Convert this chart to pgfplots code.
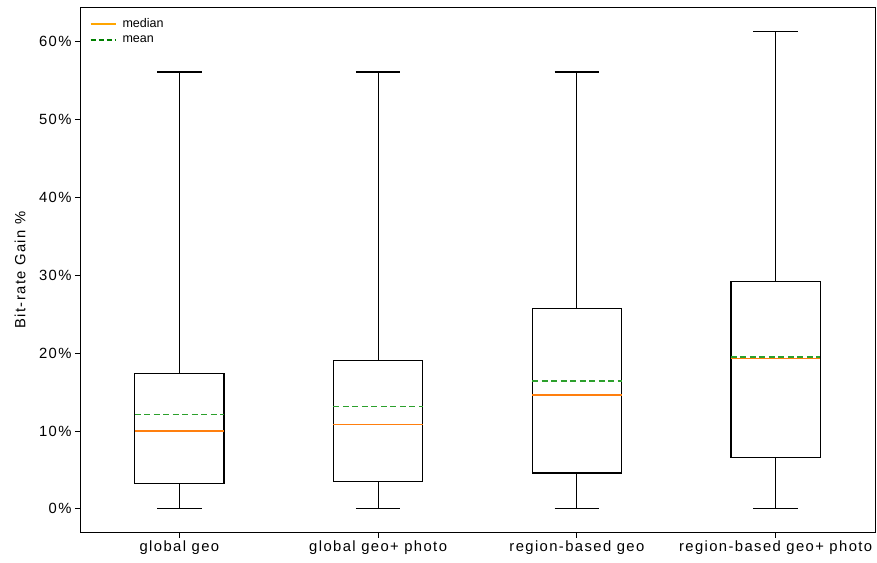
\documentclass[border=0pt]{standalone}
\usepackage{pgfplots}
\pgfplotsset{compat=1.18}
\usepgfplotslibrary{statistics}
\usepackage{fontspec}
\setmainfont{Liberation Sans}[LetterSpace=9.5]
\newfontfamily\legfont{Liberation Sans}
\definecolor{medc}{HTML}{FF7F0E}
\definecolor{meanc}{HTML}{2CA02C}
\definecolor{legmed}{HTML}{FFA500}
\definecolor{legmean}{HTML}{008000}
\begin{document}
\begin{tikzpicture}
\useasboundingbox (-80bp,-30.3bp) rectangle (797bp,532.7bp);
\begin{axis}[
  scale only axis, width=795bp, height=525.4bp,
  xmin=0.5, xmax=4.5, ymin=-3.07, ymax=64.4,
  xtick={1,2,3,4},
  xticklabels={global geo, global geo+ photo, region-based geo, region-based geo+ photo},
  ytick={0,10,20,30,40,50,60},
  yticklabel={\pgfmathprintnumber{\tick}\%},
  /pgf/number format/assume math mode=true,
  tick align=outside, xtick pos=bottom, ytick pos=left,
  major tick length=5bp,
  tick style={line width=0.8bp, black},
  axis line style={line width=0.8bp, black},
  tick label style={font=\fontsize{14.8bp}{17bp}\selectfont},
  label style={font=\fontsize{14.8bp}{17bp}\selectfont},
  ylabel={Bit-rate Gain \%},
  ylabel style={at={(axis description cs:-0.0755,0.5)}, anchor=center},
  legend style={draw=none, fill=none, at={(axis description cs:0.008,0.987)}, anchor=north west,
    font=\legfont\fontsize{12.5bp}{14bp}\selectfont, row sep=2.6bp,
    /tikz/every odd column/.append style={column sep=4bp}},
  legend cell align=left,
  legend image code/.code={\draw[#1] (0bp,0bp) -- (25bp,0bp);},
  boxplot/draw direction=y,
  boxplot/every median/.style={draw=medc, line width=1.4bp},
  boxplot/draw/average/.code={\draw[meanc, line width=1.4bp, dash pattern=on 6bp off 3.5bp]
     (boxplot box cs:\pgfplotsboxplotvalue{average},0) -- (boxplot box cs:\pgfplotsboxplotvalue{average},1);},
]
\addlegendimage{legmed, line width=2bp}
\addlegendentry{median}
\addlegendimage{legmean, line width=2bp, dash pattern=on 5bp off 3bp}
\addlegendentry{mean}

\addplot[forget plot, black, line width=1.2bp, boxplot prepared={draw position=1,
  lower whisker=0, lower quartile=3.2, median=10.0, upper quartile=17.4, upper whisker=56.1,
  average=12.1, box extend=0.45, whisker extend=0.225}] coordinates {};
\addplot[forget plot, black, line width=1.2bp, boxplot prepared={draw position=2,
  lower whisker=0, lower quartile=3.5, median=10.8, upper quartile=19.0, upper whisker=56.1,
  average=13.1, box extend=0.45, whisker extend=0.225}] coordinates {};
\addplot[forget plot, black, line width=1.2bp, boxplot prepared={draw position=3,
  lower whisker=0, lower quartile=4.6, median=14.6, upper quartile=25.7, upper whisker=56.1,
  average=16.4, box extend=0.45, whisker extend=0.225}] coordinates {};
\addplot[forget plot, black, line width=1.2bp, boxplot prepared={draw position=4,
  lower whisker=0, lower quartile=6.6, median=19.3, upper quartile=29.2, upper whisker=61.3,
  average=19.5, box extend=0.45, whisker extend=0.225}] coordinates {};
\end{axis}
\end{tikzpicture}
\end{document}
